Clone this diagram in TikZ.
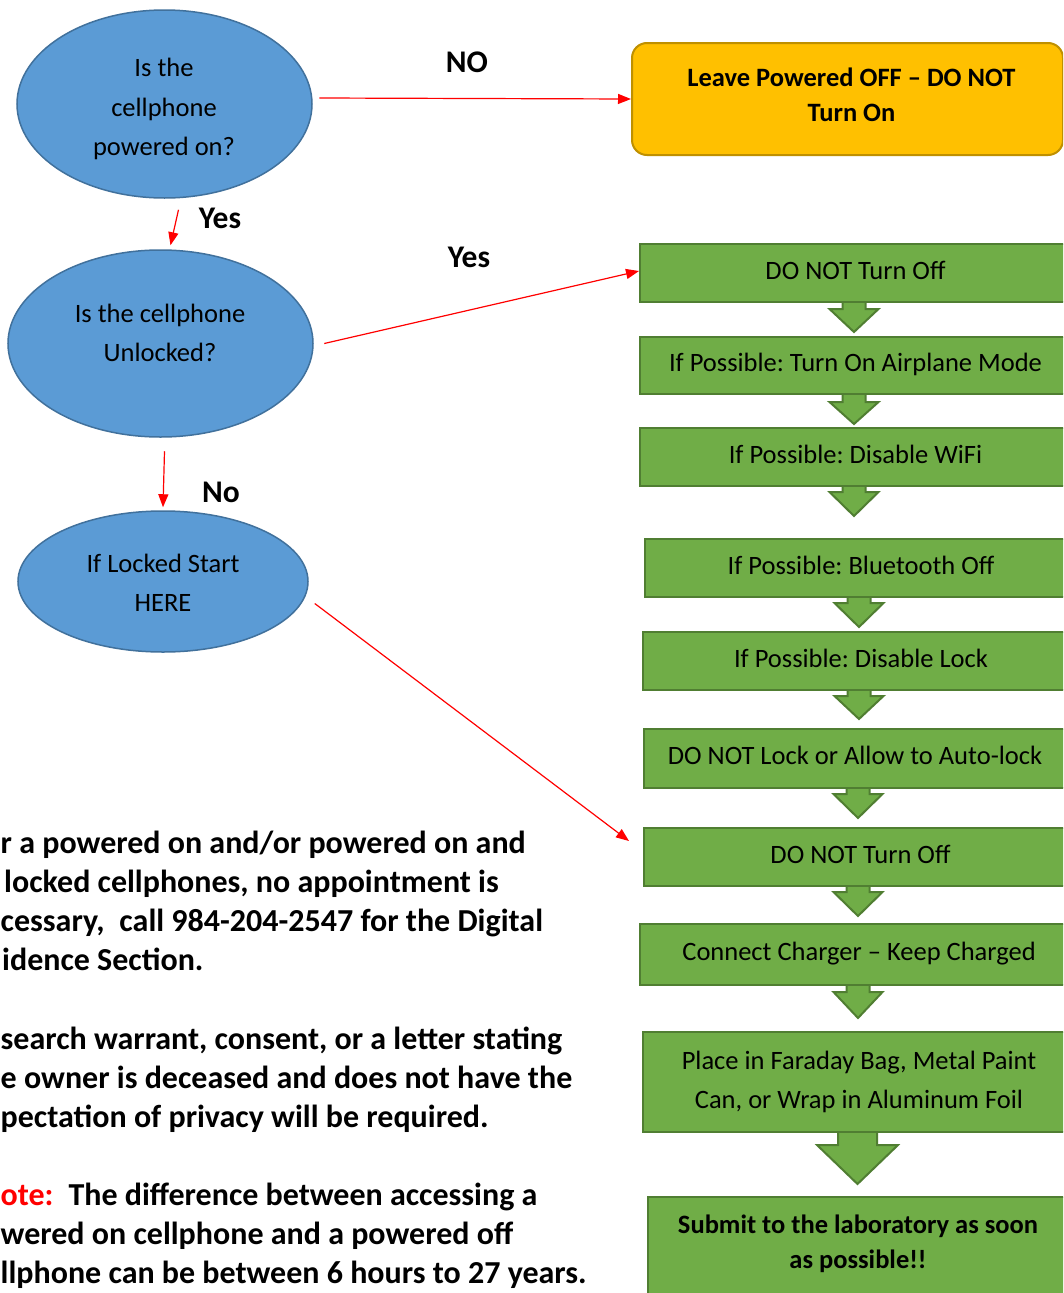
\documentclass[tikz,border=0pt]{standalone}
\usepackage{fontspec}
\setmainfont{Carlito}
\usetikzlibrary{arrows.meta,shapes.geometric,calc}
\definecolor{ellfill}{HTML}{5B9BD5}
\definecolor{elldraw}{HTML}{41719C}
\definecolor{gfill}{HTML}{70AD47}
\definecolor{gdraw}{HTML}{507E32}
\definecolor{ofill}{HTML}{FFC000}
\definecolor{odraw}{HTML}{BF9000}
\definecolor{ared}{HTML}{FF0000}
\newcommand\gdownarrow[6]{%
  \filldraw[barrow] (#1-#5,#2) -- (#1-#5,#3) -- (#1-#6,#3) -- (#1,#4) -- (#1+#6,#3) -- (#1+#5,#3) -- (#1+#5,#2);
}
\frenchspacing
\begin{document}
\frenchspacing
\begin{tikzpicture}[x=1pt,y=-1pt,
  ell/.style={ellipse, fill=ellfill, draw=elldraw, line width=1.5pt, inner sep=0pt},
  etext/.style={align=center, inner sep=0pt, font=\fontsize{26.5}{39.5}\selectfont},
  gbox/.style={rectangle, fill=gfill, draw=gdraw, line width=2pt, anchor=north west, inner sep=0pt, align=center, font=\fontsize{26.5}{39}\selectfont},
  gline/.style={gbox, text height=18pt, text depth=6pt},
  obox/.style={rectangle, rounded corners=15pt, fill=ofill, draw=odraw, line width=2pt, anchor=north west, inner sep=0pt},
  btext/.style={align=center, inner sep=0pt, font=\bfseries\fontsize{26.5}{35}\selectfont},
  lbl/.style={inner sep=0pt, font=\bfseries\fontsize{31.5}{38}\selectfont},
  rarr/.style={draw=ared, line width=1.2pt, -{Triangle[length=13pt,width=10pt]}},
  notetext/.style={anchor=base west, inner sep=0pt, font=\bfseries\fontsize{32}{39}\selectfont},
  barrow/.style={fill=gfill, draw=gdraw, line width=2pt, line join=miter}
]
\fill[white] (0,0) rectangle (1063,1293);
\useasboundingbox (0,0) rectangle (1063,1293);
\clip (0,0) rectangle (1063,1293);

% ellipses
\node[ell, minimum width=295pt, minimum height=188pt] (e1) at (164.5,104) {};
\node[etext] (e1t) at (164,109) {Is the\\cellphone\\powered on?};
\node[ell, minimum width=305pt, minimum height=187pt] (e2) at (160.5,343.5) {};
\node[etext] (e2t) at (160,333) {Is the cellphone\\Unlocked?};
\node[ell, minimum width=290pt, minimum height=141pt] (e3) at (163,581.5) {};
\node[etext] (e3t) at (163,583) {If Locked Start\\HERE};

% orange box
\node[obox, minimum width=431pt, minimum height=112pt] (ob) at (631,42) {};
\node[btext] (obt) at (851.5,95) {Leave Powered OFF -- DO NOT\\Turn On};

% block arrows (drawn before boxes)
\gdownarrow{854}{299}{309}{332}{11.5}{24.5}
\gdownarrow{854}{391}{402}{424}{11.5}{24.5}
\gdownarrow{854}{483}{492}{516}{11.5}{24.5}
\gdownarrow{859}{594}{603}{627}{11.5}{24.5}
\gdownarrow{859}{687}{696}{719}{11.5}{24.5}
\gdownarrow{858}{785}{794}{818}{11.5}{24.5}
\gdownarrow{858}{883}{892}{916}{11.5}{24.5}
\gdownarrow{858}{982}{992}{1018}{11.5}{24.5}
\gdownarrow{857.5}{1129}{1145}{1184}{19.5}{40.5}

% green boxes
\node[gline, minimum width=431pt, minimum height=58pt] (g1) at (639,243) {DO NOT Turn Off};
\node[gline, minimum width=431pt, minimum height=57pt] (g2) at (639,336) {If Possible: Turn On Airplane Mode};
\node[gline, minimum width=431pt, minimum height=58pt] (g3) at (639,427) {If Possible: Disable WiFi};
\node[gline, minimum width=432pt, minimum height=58pt] (g4) at (644,538) {If Possible: Bluetooth Off};
\node[gline, minimum width=436pt, minimum height=58pt] (g5) at (642,631) {If Possible: Disable Lock};
\node[gline, minimum width=422pt, minimum height=59pt] (g6) at (643,728) {DO NOT Lock or Allow to Auto-lock};
\node[gline, minimum width=433pt, minimum height=58pt] (g7) at (643,827) {DO NOT Turn Off};
\node[gline, minimum width=438pt, minimum height=61pt] (g8) at (639,923) {Connect Charger -- Keep Charged};
\node[gbox, minimum width=432pt, minimum height=100pt] (g9) at (642,1031) {Place in Faraday Bag, Metal Paint\\Can, or Wrap in Aluminum Foil};
\node[gbox, minimum width=422pt, minimum height=130pt] (g10) at (647,1196) {};
\node[btext] (g10t) at (858,1244) {Submit to the laboratory as soon\\as possible!!};

% red connectors
\draw[rarr] ([shift={(6.5,-6)}]e1.east) -- (ob.west);
\draw[rarr] ([shift={(14,11)}]e1.south) -- ([shift={(10,-4)}]e2.north);
\draw[rarr] ([xshift=10.5pt]e2.east) -- ([shift={(0,-2)}]g1.west);
\draw[rarr] ([shift={(4,13.5)}]e2.south) -- ([shift={(0,-3)}]e3.north);
\draw[rarr] ([shift={(6,22)}]e3.east) -- ([shift={(-14,-16)}]g7.west);

% labels
\node[lbl] (lno) at (467,62) {NO};
\node[lbl] (lyes1) at (220,218) {Yes};
\node[lbl] (lyes2) at (469,257) {Yes};
\node[lbl] (lno2) at (221,492) {No};

% note text
\node[notetext] (n1) at (0.5,853) {r a powered on and/or powered on and};
\node[notetext] (n2) at (4,892) {locked cellphones, no appointment is};
\node[notetext] (n3) at (0.5,931) {cessary,\hspace{15pt}call 984-204-2547 for the Digital};
\node[notetext] (n4) at (2,970) {idence Section.};
\node[notetext] (n5) at (0.5,1049) {search warrant, consent, or a letter stating};
\node[notetext] (n6) at (0.5,1088) {e owner is deceased and does not have the};
\node[notetext] (n7) at (0.5,1127) {pectation of privacy will be required.};
\node[notetext] (n8) at (0.5,1205) {\textcolor{ared}{ote:}\hspace{15pt}The difference between accessing a};
\node[notetext] (n9) at (0.5,1244) {wered on cellphone and a powered off};
\node[notetext] (n10) at (0.5,1283) {llphone can be between 6 hours to 27 years.};
\end{tikzpicture}
\end{document}
